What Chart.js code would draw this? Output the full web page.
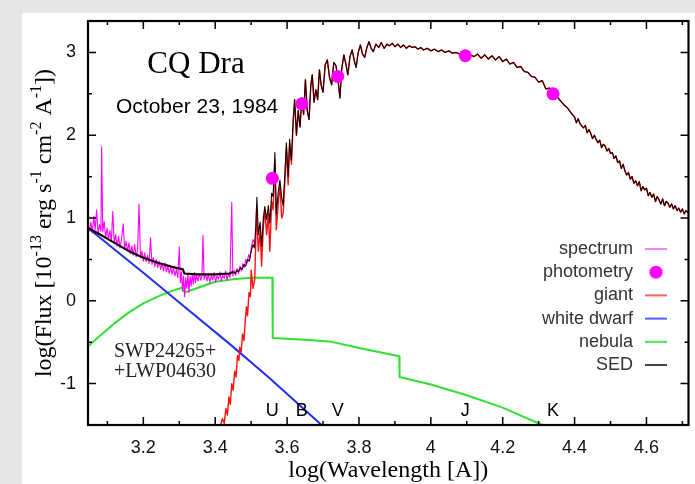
<!DOCTYPE html>
<html><head><meta charset="utf-8">
<script src="https://cdn.jsdelivr.net/npm/chart.js@4"></script>
<style>
html,body{margin:0;padding:0;background:#e6e6e6;width:695px;height:484px;overflow:hidden}
#panel{position:absolute;left:22px;top:13px;width:673px;height:471px;background:#fff}
canvas{display:block}
</style></head><body>
<div id="panel"><canvas id="c" width="673" height="471"></canvas></div>
<script>
// ---------- DATA ----------
const xTickValues = [3.2, 3.4, 3.6, 3.8, 4.0, 4.2, 4.4, 4.6];
const xTickLabels = ['3.2', '3.4', '3.6', '3.8', '4', '4.2', '4.4', '4.6'];
const xMinorTicks = [3.1, 3.3, 3.5, 3.7, 3.9, 4.1, 4.3, 4.5, 4.7];
const yTickValues = [-1, 0, 1, 2, 3];
const yTickLabels = ['-1', '0', '1', '2', '3'];
const yMinorTicks = [-0.5, 0.5, 1.5, 2.5];

// IUE spectrum (SWP+LWP)
const specLogLam = [3.046,3.050,3.054,3.058,3.062,3.066,3.070,3.074,3.078,3.082,3.084,3.087,3.091,3.095,3.099,3.103,3.107,3.111,3.115,3.119,3.123,3.127,3.131,3.135,3.139,3.144,3.148,3.152,3.156,3.160,3.164,3.168,3.172,3.176,3.180,3.184,3.188,3.192,3.196,3.200,3.204,3.208,3.212,3.216,3.220,3.224,3.228,3.232,3.236,3.240,3.244,3.248,3.252,3.256,3.260,3.264,3.268,3.272,3.276,3.280,3.284,3.288,3.292,3.296,3.300,3.303,3.306,3.309,3.312,3.315,3.318,3.321,3.324,3.327,3.330,3.333,3.336,3.339,3.342,3.345,3.348,3.352,3.356,3.360,3.363,3.366,3.369,3.373,3.377,3.381,3.385,3.389,3.393,3.397,3.401,3.405,3.409,3.413,3.417,3.421,3.425,3.429,3.433,3.437,3.441,3.446,3.449,3.453,3.457,3.461,3.465,3.469,3.473,3.477,3.481,3.485,3.489,3.493,3.497,3.501,3.505,3.509];
const specFlux = [0.90,0.84,0.95,0.82,1.02,0.86,1.10,0.80,0.92,0.84,1.86,0.83,0.96,0.76,0.88,0.74,0.85,0.72,1.08,0.70,0.80,0.66,0.78,0.64,0.74,0.93,0.62,0.72,0.60,0.70,0.57,0.66,0.55,0.68,0.53,0.62,1.17,0.52,0.60,0.48,0.58,0.47,0.55,0.45,0.76,0.44,0.52,0.41,0.50,0.40,0.48,0.38,0.45,0.36,0.46,0.35,0.42,0.33,0.41,0.32,0.40,0.30,0.38,0.28,0.65,0.22,0.35,0.12,0.30,0.05,0.28,0.15,0.33,0.10,0.30,0.18,0.32,0.20,0.34,0.22,0.31,0.24,0.33,0.25,0.30,0.79,0.26,0.33,0.24,0.32,0.22,0.31,0.25,0.34,0.23,0.30,0.26,0.35,0.24,0.31,0.27,0.36,0.25,0.33,0.28,1.19,0.30,0.37,0.31,0.39,0.33,0.42,0.36,0.45,0.40,0.50,0.46,0.56,0.52,0.66,0.74,0.70];

// Broad-band photometry U B V J K
const photBands = ['U', 'B', 'V', 'J', 'K'];
const photLogLam = [3.559, 3.641, 3.741, 4.096, 4.340];
const photFlux = [1.48, 2.38, 2.71, 2.96, 2.50];

// Giant: steep UV/blue rise, then the shared red/IR spectrum
const giantRiseLogLam = [3.415,3.420,3.425,3.430,3.434,3.438,3.442,3.446,3.450,3.454,3.458,3.462,3.466,3.468,3.472,3.476,3.480,3.484,3.487,3.490,3.494,3.498,3.500,3.505,3.510,3.515,3.520,3.525,3.529,3.534,3.538,3.543,3.548,3.552,3.557,3.561,3.566,3.570,3.575,3.580,3.585,3.589,3.594,3.598,3.603,3.607,3.612,3.617];
const giantRiseFlux = [-1.50,-1.42,-1.48,-1.30,-1.38,-1.16,-1.25,-1.00,-1.08,-0.85,-0.92,-0.66,-0.72,-0.56,-0.62,-0.40,-0.48,-0.22,-0.07,-0.18,0.10,0.05,0.37,0.15,0.26,1.10,0.60,0.85,0.42,0.90,1.10,0.80,1.05,0.60,1.20,1.10,1.70,0.86,1.15,1.40,1.00,1.05,1.45,1.85,1.40,1.90,1.65,2.15];

// SED: UV part (WD + nebula dominated) up to where the giant takes over
const sedUvLogLam = [3.046,3.080,3.120,3.160,3.200,3.240,3.280,3.310,3.314,3.350,3.400,3.440,3.450,3.455,3.460,3.465,3.470,3.475,3.480,3.485,3.490,3.495,3.500,3.505,3.509,3.513,3.516,3.520,3.525,3.529,3.534,3.538,3.543,3.548,3.552,3.557,3.561,3.566,3.570,3.575,3.580,3.585,3.589,3.594,3.598,3.603,3.607,3.612,3.617];
const sedUvFlux = [0.88,0.80,0.70,0.60,0.52,0.46,0.41,0.38,0.33,0.32,0.32,0.33,0.35,0.33,0.37,0.35,0.40,0.38,0.44,0.42,0.50,0.48,0.60,0.68,0.64,0.90,1.25,0.80,0.95,0.66,1.00,1.14,0.98,1.15,0.94,1.30,1.26,1.79,1.05,1.30,1.46,1.25,1.15,1.55,1.91,1.50,1.95,1.70,2.20];

// Red / IR spectrum shared by giant and SED
const irLogLam = [3.621,3.626,3.631,3.636,3.641,3.646,3.651,3.656,3.661,3.666,3.670,3.675,3.680,3.685,3.690,3.695,3.700,3.706,3.712,3.718,3.724,3.730,3.736,3.741,3.747,3.752,3.758,3.764,3.769,3.775,3.781,3.787,3.792,3.798,3.804,3.810,3.816,3.822,3.828,3.834,3.840,3.847,3.855,3.862,3.870,3.878,3.885,3.893,3.900,3.908,3.916,3.924,3.932,3.940,3.948,3.956,3.964,3.972,3.980,3.990,4.000,4.010,4.020,4.030,4.040,4.050,4.060,4.070,4.080,4.090,4.100,4.110,4.120,4.130,4.140,4.150,4.160,4.170,4.180,4.190,4.200,4.210,4.220,4.230,4.240,4.250,4.260,4.270,4.280,4.290,4.300,4.310,4.320,4.330,4.340,4.350,4.360,4.370,4.380,4.390,4.400,4.405,4.410,4.415,4.420,4.425,4.430,4.435,4.440,4.445,4.450,4.455,4.460,4.465,4.470,4.475,4.480,4.485,4.490,4.495,4.500,4.505,4.510,4.515,4.520,4.525,4.530,4.535,4.540,4.545,4.550,4.555,4.560,4.565,4.570,4.575,4.580,4.585,4.590,4.595,4.600,4.605,4.610,4.615,4.620,4.625,4.630,4.635,4.640,4.645,4.650,4.655,4.660,4.665,4.670,4.675,4.680,4.685,4.690,4.695,4.700,4.705,4.710,4.717];
const irFlux = [2.43,2.00,2.30,2.10,2.45,2.25,2.67,2.30,2.19,2.60,2.73,2.40,2.55,2.43,2.79,2.60,2.52,2.85,2.91,2.70,2.61,2.88,2.84,2.70,2.45,2.80,2.97,2.85,2.73,2.95,3.03,2.90,2.82,3.00,3.09,2.98,2.94,3.06,3.13,3.05,3.01,3.10,3.06,3.12,3.05,3.10,3.08,3.11,3.07,3.10,3.06,3.09,3.05,3.08,3.06,3.07,3.04,3.06,3.03,3.05,3.02,3.04,3.01,3.03,3.00,3.02,2.99,3.00,2.98,2.97,2.96,2.97,2.95,2.98,2.93,2.97,2.92,2.96,2.91,2.95,2.89,2.92,2.86,2.88,2.82,2.83,2.77,2.76,2.71,2.70,2.64,2.66,2.56,2.57,2.50,2.47,2.42,2.37,2.33,2.27,2.22,2.15,2.20,2.14,2.11,2.09,2.12,2.03,2.07,2.02,1.96,2.00,1.95,1.91,1.94,1.85,1.89,1.87,1.81,1.84,1.78,1.79,1.72,1.75,1.67,1.69,1.60,1.65,1.57,1.52,1.55,1.47,1.50,1.42,1.45,1.39,1.44,1.33,1.38,1.34,1.36,1.27,1.31,1.25,1.29,1.20,1.26,1.22,1.17,1.23,1.15,1.20,1.18,1.13,1.17,1.11,1.15,1.09,1.12,1.07,1.11,1.05,1.09,1.06];

// Hot white dwarf
const wdLogLam = [3.046, 3.200, 3.300, 3.440, 3.550, 3.696];
const wdFlux = [0.88, 0.34, -0.02, -0.52, -0.93, -1.50];

// Nebular continuum
const nebLogLam = [3.046,3.080,3.120,3.160,3.200,3.240,3.280,3.310,3.315,3.360,3.400,3.450,3.500,3.559,3.560,3.650,3.718,3.801,3.912,3.913,4.000,4.100,4.200,4.310,4.340];
const nebFlux = [-0.55,-0.42,-0.27,-0.14,-0.03,0.05,0.12,0.16,0.10,0.17,0.23,0.26,0.28,0.28,-0.45,-0.47,-0.49,-0.57,-0.67,-0.92,-1.01,-1.14,-1.29,-1.50,-1.56];

const legendLabels = ['spectrum', 'photometry', 'giant', 'white dwarf', 'nebula', 'SED'];

// ---------- BUILD ----------
const pts = (xs, ys) => xs.map((v, i) => ({x: v, y: ys[i]}));
const SANS = '"Liberation Sans", Arial, sans-serif';
const SERIF = '"Liberation Serif", "Times New Roman", serif';

const C_SPEC = '#ff00ff', C_GIANT = '#ff1010', C_WD = '#2030ee', C_NEB = '#30e030';

const lineDs = (label, data, color, width, order, extra) => Object.assign({
  type: 'line', label, data, borderColor: color, backgroundColor: color,
  borderWidth: width, pointRadius: 0, tension: 0, fill: false,
  borderJoinStyle: 'round', order
}, extra || {});

const datasets = [
  lineDs(legendLabels[0], pts(specLogLam, specFlux), C_SPEC, 1.1, 5),
  {type: 'scatter', label: legendLabels[1], data: pts(photLogLam, photFlux),
   backgroundColor: '#ff00ff', borderColor: '#ff00ff', pointRadius: 6.5, pointBorderWidth: 0, order: 0},
  lineDs(legendLabels[2], pts(giantRiseLogLam.concat(irLogLam), giantRiseFlux.concat(irFlux)), C_GIANT, 1.4, 3),
  lineDs(legendLabels[3], pts(wdLogLam, wdFlux), C_WD, 2, 4),
  lineDs(legendLabels[4], pts(nebLogLam, nebFlux), C_NEB, 2, 6),
  lineDs(legendLabels[5], pts(sedUvLogLam.concat(irLogLam), sedUvFlux.concat(irFlux)), '#1a0000', 2, 1,
    {segment: {borderWidth: c => (c.p0.parsed.x < 3.45 ? 2.2 : 1.1)}})
];

const legendStyle = [
  {kind: 'line', color: '#ff80ff'},
  {kind: 'dot', color: '#ff00ff'},
  {kind: 'line', color: '#ff6060'},
  {kind: 'line', color: '#5a5aff'},
  {kind: 'line', color: '#55e055'},
  {kind: 'line', color: '#444444'}
];

const decor = {
  id: 'decor',
  afterDatasetsDraw(chart) {
    const {ctx, chartArea: a, scales: {x, y}} = chart;
    ctx.save();
    ctx.strokeStyle = '#000';
    ctx.lineWidth = 1.5;
    ctx.beginPath();
    const tickX = (v, len) => { const p = x.getPixelForValue(v);
      ctx.moveTo(p, a.bottom); ctx.lineTo(p, a.bottom - len);
      ctx.moveTo(p, a.top); ctx.lineTo(p, a.top + len); };
    const tickY = (v, len) => { const p = y.getPixelForValue(v);
      ctx.moveTo(a.left, p); ctx.lineTo(a.left + len, p);
      ctx.moveTo(a.right, p); ctx.lineTo(a.right - len, p); };
    xTickValues.forEach(v => tickX(v, 8));
    xMinorTicks.forEach(v => tickX(v, 4));
    yTickValues.forEach(v => tickY(v, 8));
    yMinorTicks.forEach(v => tickY(v, 4));
    ctx.stroke();
    ctx.lineWidth = 2.2;
    ctx.strokeRect(a.left, a.top, a.right - a.left, a.bottom - a.top);

    // band labels
    ctx.fillStyle = '#000';
    ctx.font = '18px ' + SANS;
    ctx.textAlign = 'center';
    ctx.textBaseline = 'alphabetic';
    photBands.forEach((b, i) => ctx.fillText(b, x.getPixelForValue(photLogLam[i]), 403));

    // annotations
    ctx.font = '31px ' + SERIF;
    ctx.fillText('CQ Dra', 174, 60);
    ctx.textAlign = 'left';
    ctx.font = '21px ' + SANS;
    ctx.fillText('October 23, 1984', 94, 100);
    ctx.fillStyle = '#222';
    ctx.font = '20px ' + SERIF;
    ctx.fillText('SWP24265+', 92, 344);
    ctx.fillText('+LWP04630', 92, 364);

    // legend
    ctx.font = '18px ' + SANS;
    ctx.textAlign = 'right';
    ctx.textBaseline = 'middle';
    legendLabels.forEach((lab, i) => {
      const yy = 236 + i * 23.2;
      ctx.fillStyle = '#333';
      ctx.fillText(lab, 611, yy);
      const st = legendStyle[i];
      if (st.kind === 'dot') {
        ctx.fillStyle = st.color; ctx.beginPath(); ctx.arc(634, yy, 6.5, 0, Math.PI * 2); ctx.fill();
      } else {
        ctx.strokeStyle = st.color; ctx.lineWidth = 2; ctx.beginPath();
        ctx.moveTo(623, yy); ctx.lineTo(645, yy); ctx.stroke();
      }
    });

    // axis titles
    ctx.fillStyle = '#000';
    ctx.textAlign = 'center';
    ctx.textBaseline = 'alphabetic';
    ctx.font = '24px ' + SERIF;
    ctx.fillText('log(Wavelength [A])', (a.left + a.right) / 2, 464);

    const segs = [['log(Flux [10', 0], ['-13', 1], [' erg s', 0], ['-1', 1], [' cm', 0], ['-2', 1], [' A', 0], ['-1', 1], ['])', 0]];
    const fMain = '24px ' + SERIF, fSup = '16px ' + SERIF;
    let total = 0;
    segs.forEach(s => { ctx.font = s[1] ? fSup : fMain; total += ctx.measureText(s[0]).width; });
    ctx.save();
    ctx.translate(29, (a.top + a.bottom) / 2);
    ctx.rotate(-Math.PI / 2);
    ctx.textAlign = 'left';
    let cx = -total / 2;
    segs.forEach(s => {
      ctx.font = s[1] ? fSup : fMain;
      ctx.fillText(s[0], cx, s[1] ? -10 : 0);
      cx += ctx.measureText(s[0]).width;
    });
    ctx.restore();
    ctx.restore();
  }
};

const noPad = s => { s.paddingTop = 0; s.paddingBottom = 0; s.paddingLeft = 0; s.paddingRight = 0; };

new Chart(document.getElementById('c'), {
  data: {datasets},
  options: {
    responsive: false,
    animation: false,
    layout: {padding: {top: 8, right: 5, left: 0, bottom: 0}},
    plugins: {legend: {display: false}, tooltip: {enabled: false}},
    scales: {
      x: {
        type: 'linear', min: 3.046, max: 4.717,
        afterBuildTicks: s => { s.ticks = xTickValues.map(v => ({value: v})); },
        afterFit: s => { s.height = 59; noPad(s); },
        ticks: {callback: (v, i) => xTickLabels[i], font: {family: SANS, size: 18}, color: '#111', padding: 12, maxRotation: 0, autoSkip: false},
        grid: {display: false, drawTicks: false}, border: {display: false}
      },
      y: {
        type: 'linear', min: -1.5, max: 3.38,
        afterBuildTicks: s => { s.ticks = yTickValues.map(v => ({value: v})); },
        afterFit: s => { s.width = 66; noPad(s); },
        ticks: {callback: (v, i) => yTickLabels[i], font: {family: SANS, size: 18}, color: '#111', padding: 12, autoSkip: false},
        grid: {display: false, drawTicks: false}, border: {display: false}
      }
    }
  },
  plugins: [decor]
});
</script></body></html>
